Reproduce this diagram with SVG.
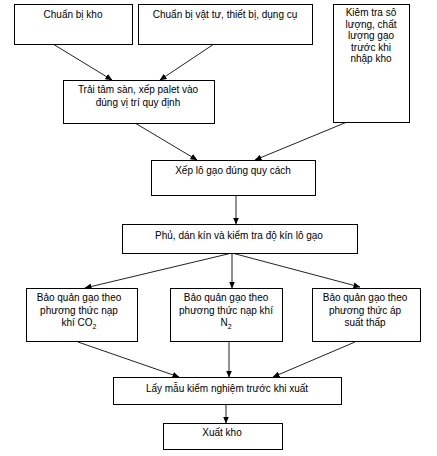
<svg xmlns="http://www.w3.org/2000/svg" width="437" height="456" viewBox="0 0 437 456">
<style>
.b{fill:#fff;stroke:#000;stroke-width:1}
text{font-family:"Liberation Sans",Arial,sans-serif;font-size:10px;fill:#000;text-anchor:middle}
.c line{stroke:#222;stroke-width:1}
</style>
<defs>
<marker id="a" markerWidth="7" markerHeight="6" refX="6.5" refY="3" orient="auto" markerUnits="userSpaceOnUse">
<path d="M0,0 L7,3 L0,6 z" fill="#000"/>
</marker>
</defs>
<rect width="437" height="456" fill="#fff"/>
<g class="c">
<line x1="53" y1="44" x2="112" y2="80" marker-end="url(#a)"/>
<line x1="214" y1="44" x2="160" y2="80" marker-end="url(#a)"/>
<line x1="135" y1="123" x2="197" y2="160" marker-end="url(#a)"/>
<line x1="347" y1="122" x2="255" y2="160" marker-end="url(#a)"/>
<line x1="236" y1="195" x2="236" y2="224" marker-end="url(#a)"/>
<line x1="232" y1="253" x2="85" y2="288" marker-end="url(#a)"/>
<line x1="232" y1="253" x2="232" y2="288" marker-end="url(#a)"/>
<line x1="232" y1="253" x2="360" y2="287" marker-end="url(#a)"/>
<line x1="78" y1="342" x2="179" y2="377" marker-end="url(#a)"/>
<line x1="229" y1="342" x2="229" y2="377" marker-end="url(#a)"/>
<line x1="355" y1="342" x2="273" y2="377" marker-end="url(#a)"/>
<line x1="226" y1="404" x2="226" y2="423" marker-end="url(#a)"/>
</g>
<g id="n1"><rect class="b" x="14.5" y="4.5" width="118" height="40"/><text x="73" y="18">Chuẩn bị kho</text></g>
<g id="n2"><rect class="b" x="138.5" y="4.5" width="174" height="40"/><text x="225" y="18">Chuẩn bị vật tư, thiết bị, dụng cụ</text></g>
<g id="n3"><rect class="b" x="333.5" y="4.5" width="76" height="118"/>
<text x="371" y="16">Kiêm tra sô</text><text x="371" y="27.5">lượng, chất</text><text x="371" y="39">lượng gạo</text><text x="371" y="50.5">trước khi</text><text x="371" y="62">nhập kho</text></g>
<g id="n4"><rect class="b" x="63.5" y="80.5" width="151" height="43"/><text x="138" y="93">Trải tâm sàn, xếp palet vào</text><text x="138" y="106">đúng vị trí quy định</text></g>
<g id="n5"><rect class="b" x="151.5" y="160.5" width="164" height="35"/><text x="233" y="174">Xếp lô gạo đúng quy cách</text></g>
<g id="n6"><rect class="b" x="122.5" y="224.5" width="235" height="29"/><text x="239" y="239">Phủ, dán kín và kiểm tra độ kín lô gạo</text></g>
<g id="n7"><rect class="b" x="26.5" y="288.5" width="111" height="53"/><text x="79" y="301">Bảo quản gạo theo</text><text x="79" y="313.5">phương thức nạp</text><text x="79" y="326">khí CO<tspan font-size="7" dy="3">2</tspan></text></g>
<g id="n8"><rect class="b" x="170.5" y="288.5" width="112" height="53"/><text x="226" y="301">Bảo quản gạo theo</text><text x="226" y="313.5">phương thức nạp khí</text><text x="226" y="326">N<tspan font-size="7" dy="3">2</tspan></text></g>
<g id="n9"><rect class="b" x="312.5" y="288.5" width="108" height="53"/><text x="365" y="301">Bảo quản gạo theo</text><text x="365" y="313.5">phương thức áp</text><text x="365" y="326">suất thấp</text></g>
<g id="n10"><rect class="b" x="113.5" y="377.5" width="228" height="27"/><text x="227" y="392">Lấy mẫu kiểm nghiệm trước khi xuất</text></g>
<g id="n11"><rect class="b" x="163.5" y="423.5" width="119" height="26"/><text x="222" y="436">Xuất kho</text></g>
</svg>
